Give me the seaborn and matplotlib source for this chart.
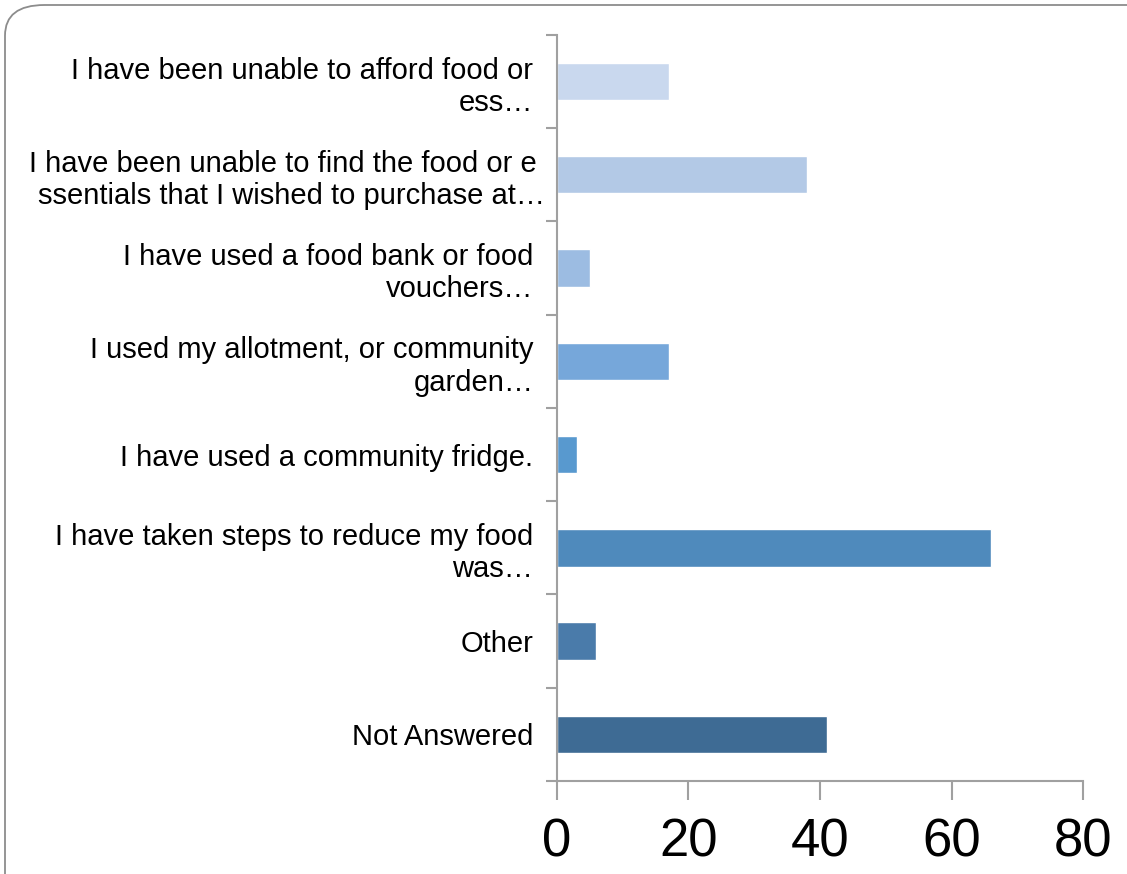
import matplotlib
matplotlib.use("Agg")
import matplotlib.pyplot as plt
from matplotlib.patches import FancyBboxPatch
from matplotlib.ticker import FixedLocator
from matplotlib.transforms import ScaledTranslation
import pandas as pd
import seaborn as sns

# Survey responses: food access during the period
categories = [
    "I have been unable to afford food or\ness…",
    "I have been unable to find the food or e \nssentials that I wished to purchase at…",
    "I have used a food bank or food\nvouchers…",
    "I used my allotment, or community\ngarden…",
    "I have used a community fridge.",
    "I have taken steps to reduce my food\nwas…",
    "Other",
    "Not Answered",
]
counts = [17, 38, 5, 17, 3, 66, 6, 41]
bar_colors = ["#C9D8EE", "#B3C9E6", "#9CBCE2", "#76A7DA",
              "#5899CF", "#4F8ABC", "#4A7BAA", "#3E6B94"]
x_ticks = [0, 20, 40, 60, 80]

df = pd.DataFrame({"category": categories, "count": counts})

sns.set_theme(style="white")
plt.rcParams["font.family"] = ["Liberation Sans", "DejaVu Sans"]

fig = plt.figure(figsize=(11.27, 8.74), dpi=100)
ax = fig.add_axes([0.4942, 0.1064, 0.4668, 0.8536])

sns.barplot(data=df, y="category", x="count", hue="category",
            palette=bar_colors, orient="h", width=0.4, legend=False,
            saturation=1, ax=ax)

ax.set_xlim(0, 80)
ax.set_ylim(len(categories) - 0.5, -0.5)
ax.set_xticks(x_ticks)
ax.set_xticklabels([str(t) for t in x_ticks], fontsize=38, color="black")
ax.set_xlabel("")
ax.set_ylabel("")
ax.tick_params(axis="y", which="major", length=0, pad=17, labelsize=21,
               labelcolor="black")
ax.yaxis.set_minor_locator(FixedLocator([i - 0.5 for i in range(len(categories) + 1)]))
ax.tick_params(axis="y", which="minor", left=True, direction="out", length=8,
               width=1.5, color="#A0A0A0")
ax.tick_params(axis="x", which="major", bottom=True, direction="out", length=14,
               width=1.5, color="#A0A0A0", pad=12)
for i, lab in enumerate(ax.get_yticklabels()):
    lab.set_multialignment("right")
    lab.set_linespacing(1.2)
    if i == 1:
        # the longer wrapped label runs slightly past the others
        lab.set_transform(lab.get_transform()
                          + ScaledTranslation(12 / 100, 0, fig.dpi_scale_trans))

for side in ("top", "right"):
    ax.spines[side].set_visible(False)
for side in ("left", "bottom"):
    ax.spines[side].set_color("#A0A0A0")
    ax.spines[side].set_linewidth(1.5)
ax.grid(False)

# Rounded frame around the whole chart
frame = FancyBboxPatch((5 / 1127, -0.05), 1.2, 1 - 5 / 874 + 0.05,
                       boxstyle="round,pad=0,rounding_size=0.035",
                       transform=fig.transFigure, facecolor="none",
                       edgecolor="#8C8C8C", linewidth=1.3, clip_on=False)
fig.patches.append(frame)

fig.savefig("out.png", dpi=100)
